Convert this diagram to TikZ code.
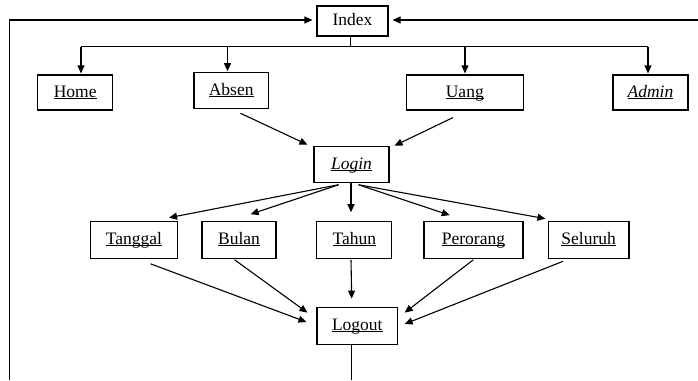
\documentclass[tikz,border=0pt]{standalone}
\usepackage{fontspec}
\setmainfont{Liberation Serif}
\usetikzlibrary{arrows.meta,calc}

% underline drawn straight through the descenders
\newcommand\undl[1]{\setbox0\hbox{#1}\rlap{\rule[-1.8pt]{\wd0}{0.9pt}}\box0}

\begin{document}
\begin{tikzpicture}[x=1pt,y=-1pt,
  box/.style={draw,line width=1.1pt,inner sep=0pt,text height=12.5pt,text depth=3.5pt,
    font=\fontsize{17.5}{20}\selectfont},
  link/.style={line width=1.1pt,-{Triangle[length=8pt,width=7pt]}},
  plain/.style={line width=1.1pt}]
\useasboundingbox (0,0) rectangle (698,380);

% page nodes
\node[box,minimum width=71pt,minimum height=30pt] (index) at (352.5,21) {Index};
\node[box,minimum width=75pt,minimum height=35pt] (home) at (75.2,92.5) {\undl{Home}};
\node[box,minimum width=74.5pt,minimum height=36pt] (absen) at (231.2,90.7) {\undl{Absen}};
\node[box,minimum width=116.5pt,minimum height=35pt] (uang) at (464.8,92.5) {\undl{Uang}};
\node[box,minimum width=75pt,minimum height=35pt] (admin) at (650.5,92.5) {\undl{\itshape Admin}};
\node[box,minimum width=75pt,minimum height=36pt] (login) at (351.5,164.7) {\undl{\itshape Login}};
\node[box,minimum width=87pt,minimum height=36.5pt] (tanggal) at (134,240) {\undl{Tanggal}};
\node[box,minimum width=74pt,minimum height=36.5pt] (bulan) at (239,240) {\undl{Bulan}};
\node[box,minimum width=75pt,minimum height=36.5pt] (tahun) at (354.4,240) {\undl{Tahun}};
\node[box,minimum width=99pt,minimum height=36.5pt] (perorang) at (473.5,240) {\undl{Perorang}};
\node[box,minimum width=80.5pt,minimum height=36.5pt] (seluruh) at (588.7,240) {\undl{Seluruh}};
\node[box,minimum width=80.6pt,minimum height=36.6pt] (logout) at (357.3,326) {\undl{Logout}};

% return paths to Index running off the page
\coordinate (leftfoot) at (9.8,380);
\coordinate (rightend) at (698,20);
\coordinate (logoutfoot) at (351.7,380);
\draw[link] (leftfoot) |- ($(index.west)+(-4,-1)$);
\draw[link] (rightend) -- ($(index.east)+(4,-1)$);
\draw[plain] (logout.south -| logoutfoot) -- (logoutfoot);

% Index fan-out bus
\coordinate (busmid) at (350.4,46.7);
\coordinate (busL) at (81,46.7);
\coordinate (busA) at (227.5,46.7);
\coordinate (busU) at (465,46.7);
\coordinate (busR) at (648,46.7);
\draw[plain] (index.south -| busmid) -- (busmid);
\draw[plain] (busL) -- (busR);
\draw[link] (busL) -- ($(home.north -| busL)+(0,-1)$);
\draw[link] (busA) -- ($(absen.north -| busA)+(0,-1)$);
\draw[link] (busU) -- ($(uang.north -| busU)+(0,-1)$);
\draw[link] (busR) -- ($(admin.north -| busR)+(0,-1)$);

% into Login
\draw[link] ($(absen.south)+(9.2,4)$) -- ($(login.north west)+(-6,-1.5)$);
\draw[link] ($(uang.south)+(-11.8,7)$) -- ($(login.north east)+(5,-0.5)$);

% Login fan-out
\draw[link] ($(login.south)+(-13,1.5)$) -- ($(tanggal.north)+(35,-3.5)$);
\draw[link] ($(login.south)+(-13,1.5)$) -- ($(bulan.north)+(11.7,-7)$);
\draw[link] ($(login.south)+(-0.5,0)$) -- ($(tahun.north)+(-3.4,-9)$);
\draw[link] ($(login.south)+(7,1.5)$) -- ($(perorang.north)+(-23.8,-6)$);
\draw[link] ($(login.south)+(7,1.5)$) -- ($(seluruh.north)+(-43.3,-2.5)$);

% into Logout
\draw[link] ($(tanggal.south)+(16.5,5)$) -- ($(logout.west)+(-10,-4)$);
\draw[link] ($(bulan.south)+(-4.4,1)$) -- ($(logout.north west)+(-9,5.5)$);
\draw[link] ($(tahun.south)+(-3.4,1)$) -- ($(logout.north)+(-5.6,-8.5)$);
\draw[link] ($(perorang.south)+(-0.2,1)$) -- ($(logout.north east)+(6.5,5.5)$);
\draw[link] ($(seluruh.south)+(-25.7,2.5)$) -- ($(logout.east)+(6.5,-2)$);
\end{tikzpicture}
\end{document}
